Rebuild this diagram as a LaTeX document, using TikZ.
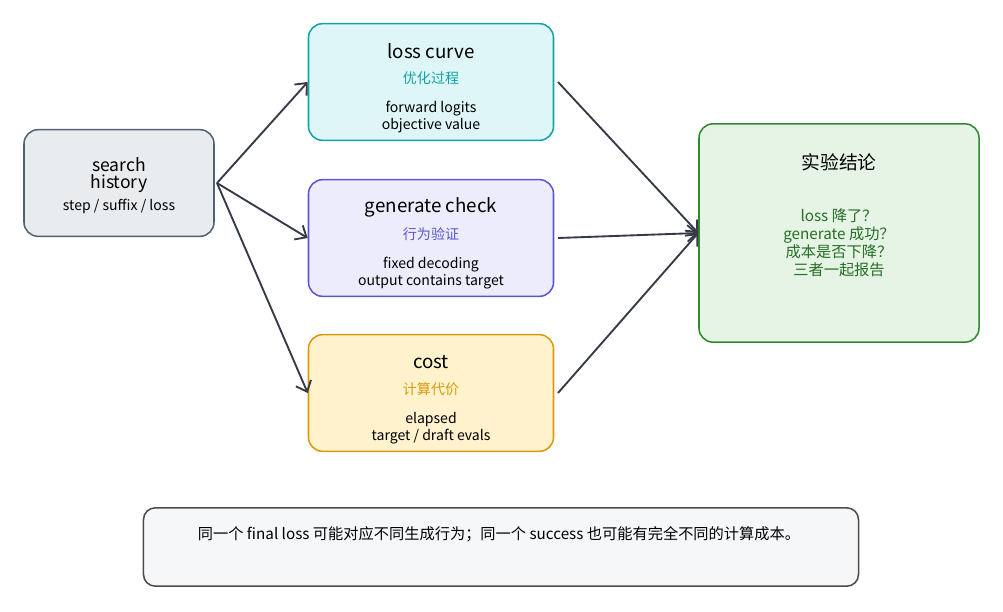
\documentclass[tikz,border=0pt]{standalone}
\usepackage{fontspec}
\setmainfont{Noto Sans CJK SC}
\usetikzlibrary{positioning, arrows.meta}
\tikzset{
  box/.style={draw, rounded corners=12pt, line width=1.3pt, align=center,
    minimum width=7.35cm, minimum height=3.5cm},
  flow/.style={-{Straight Barb[length=8pt,width=14pt]}, line width=1.6pt, draw={rgb,255:red,52;green,58;blue,72}}
}
\newcommand{\ttl}{\fontsize{16}{18}\selectfont}
\newcommand{\sml}{\fontsize{12}{14}\selectfont}
\definecolor{tealB}{HTML}{12A3A3}\definecolor{tealF}{HTML}{DFF6F8}
\definecolor{violB}{HTML}{5B57D1}\definecolor{violF}{HTML}{ECECFC}
\definecolor{ambB}{HTML}{D99A0A}\definecolor{ambF}{HTML}{FFF2CC}
\definecolor{grnB}{HTML}{2F8A2F}\definecolor{grnF}{HTML}{E6F4E5}
\definecolor{slateB}{HTML}{4F6373}\definecolor{slateF}{HTML}{E9ECEF}
\begin{document}
\begin{tikzpicture}[x=0.03cm,y=-0.03cm]
    \useasboundingbox (0,0) rectangle (1003,611);
    % left source box
    \node[box, draw=slateB, fill=slateF, minimum width=5.7cm, minimum height=3.2cm] (hist) at (119,183) {};
    \node[align=center, font=\fontsize{15}{15}\selectfont] at (119,175) {search\\history};
    \node[font=\sml] at (119,206) {step / suffix / loss};
    % middle column
    \node[box, draw=tealB, fill=tealF] (loss) at (431,82) {};
    \node[box, draw=violB, fill=violF] (gen) at (431,238) {};
    \node[box, draw=ambB, fill=ambF] (cost) at (431,393) {};
    \node[font=\ttl] at (431,51) {loss curve};
    \node[font=\sml, text=tealB] at (431,78) {优化过程};
    \node[font=\sml, align=center] at (431,117) {forward logits\\objective value};
    \node[font=\ttl] at (431,207) {generate check};
    \node[font=\sml, text=violB] at (431,234) {行为验证};
    \node[font=\sml, align=center] at (431,273) {fixed decoding\\output contains target};
    \node[font=\ttl] at (431,362) {cost};
    \node[font=\sml, text=ambB] at (431,389) {计算代价};
    \node[font=\sml, align=center] at (431,428) {elapsed\\target / draft evals};
    % result box
    \node[box, draw=grnB, fill=grnF, minimum width=8.4cm, minimum height=6.55cm] (res) at (839,233) {};
    \node[font=\ttl] at (839,162) {实验结论};
    \node[align=center, text=grnB!80!black, font=\fontsize{13}{15.5}\selectfont] at (839,243) {loss 降了？\\generate 成功？\\成本是否下降？\\三者一起报告};
    % note
    \node[box, draw=black!70, fill=slateF!40, minimum width=21.45cm, minimum height=2.35cm, rounded corners=10pt] (note) at (501,547) {};
    \node[font=\fontsize{13}{14}\selectfont] at (499,534) {同一个 final loss 可能对应不同生成行为；同一个 success 也可能有完全不同的计算成本。};
    % connectors
    \coordinate (fork) at (217,183);
    \draw[flow] (fork) -- (loss.west);
    \draw[flow] (fork) -- (gen.west);
    \draw[flow] (fork) -- (cost.west);
    \draw[flow] (558,82) -- (res.west);
    \draw[flow] (558,238) -- (res.west);
    \draw[flow] (558,393) -- (res.west);
\end{tikzpicture}
\end{document}
